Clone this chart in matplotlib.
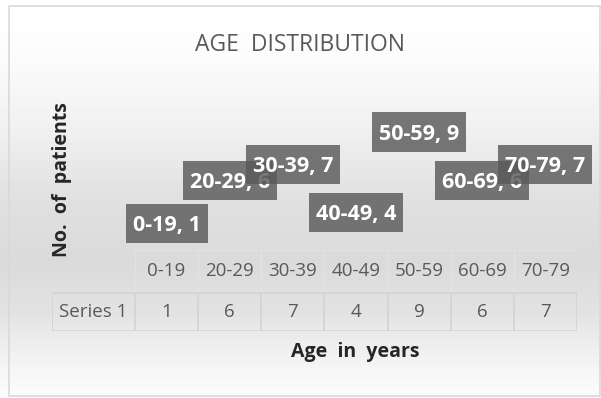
import numpy as np
import matplotlib
matplotlib.use("Agg")
import matplotlib.pyplot as plt
from matplotlib.patches import Rectangle

plt.rcParams['font.family'] = ['Open Sans', 'DejaVu Sans']

# age groups and number of patients in each
age_groups = ["0-19", "20-29", "30-39", "40-49", "50-59", "60-69", "70-79"]
patients = [1, 6, 7, 4, 9, 6, 7]
series_name = "Series 1"

W, H = 601, 398
fig = plt.figure(figsize=(W / 100, H / 100), dpi=100)


def px_box(x0, y0, x1, y1):
    # pixel box (top-left origin) -> figure fraction rect
    return [x0 / W, 1 - y1 / H, (x1 - x0) / W, (y1 - y0) / H]


# background: vertical grey gradient inside a thin frame
bg = fig.add_axes([0, 0, 1, 1])
bg.set_xlim(0, W)
bg.set_ylim(H, 0)
bg.axis("off")
stops_y = [0, 50, 120, 200, 260, 310, 360, 398]
stops_v = [255, 252, 242, 224, 218, 226, 243, 252]
col = np.interp(np.arange(H), stops_y, stops_v) / 255.0
grad = np.repeat(col[:, None], 2, axis=1)
bg.imshow(grad, cmap="gray", vmin=0, vmax=1, extent=[0, W, H, 0], aspect="auto", zorder=0)
bg.add_patch(Rectangle((9, 6), 591, 390, fill=False, ec="#d9d9d9", lw=1.2, zorder=1))

bg.text(300, 45, "AGE  DISTRIBUTION", ha="center", va="center", fontsize=16.5, color="#595959")
bg.text(355, 352, "Age  in  years", ha="center", va="center", fontsize=14, fontweight="bold", color="#262626")
bg.text(62, 180, "No.  of  patients", ha="center", va="center", rotation=90, fontsize=14,
        fontweight="bold", color="#262626")

# plot area: one column per age group, labels placed at the value
ax = fig.add_axes(px_box(135, 100, 577, 276))
ax.set_xlim(-0.5, len(age_groups) - 0.5)
ax.set_ylim(0, 11)
ax.axis("off")
label_floor = 3.3  # keep small values clear of the data table
renderer = fig.canvas.get_renderer()
to_px = ax.transData
for i, (g, v) in enumerate(zip(age_groups, patients)):
    y = max(v, label_floor)
    t = ax.text(i, y, f"{g}, {v}", ha="center", va="center_baseline", fontsize=15.5,
                fontweight="bold", color="white", zorder=2 * i + 3)
    tw = t.get_window_extent(renderer).width
    # dark label box, each later one drawn over the earlier ones
    cx, cy = to_px.transform((i, y))
    bw, bh = tw + 14, 39
    x0, y0 = to_px.inverted().transform((cx - bw / 2, cy - bh / 2))
    x1, y1 = to_px.inverted().transform((cx + bw / 2, cy + bh / 2))
    ax.add_patch(Rectangle((x0, y0), x1 - x0, y1 - y0, fc="#5a5a5a", ec="none",
                           alpha=0.82, zorder=2 * i + 2, clip_on=False))
    t.set_clip_on(False)

# data table under the plot area
col_w = 442 / len(age_groups)
tab = fig.add_axes(px_box(52, 250, 577, 331))
tab.set_xlim(-0.5 - 83 / col_w, len(age_groups) - 0.5)
tab.set_ylim(81, 0)
tab.axis("off")
line_c = "#d4d4d4"
head_c = "#e2e2e2"
n = len(age_groups)
for k in range(n + 1):
    tab.plot([k - 0.5, k - 0.5], [43, 81], color=line_c, lw=1.3)
    tab.plot([k - 0.5, k - 0.5], [0, 43], color=head_c, lw=1.0)
tab.plot([-0.5, n - 0.5], [0, 0], color=head_c, lw=1.0)
left = -0.5 - 83 / col_w
tab.plot([left, left], [43, 81], color=line_c, lw=1.3)
tab.plot([left, n - 0.5], [43, 43], color=line_c, lw=1.3)
tab.plot([left, n - 0.5], [81, 81], color=line_c, lw=1.3)
tab.text((left - 0.5) / 2, 62, series_name, ha="center", va="center", fontsize=13.5, color="#595959")
for i, (g, v) in enumerate(zip(age_groups, patients)):
    tab.text(i, 21, g, ha="center", va="center", fontsize=13.5, color="#595959")
    tab.text(i, 62, str(v), ha="center", va="center", fontsize=13.5, color="#595959")

fig.savefig("out.png", dpi=100)
